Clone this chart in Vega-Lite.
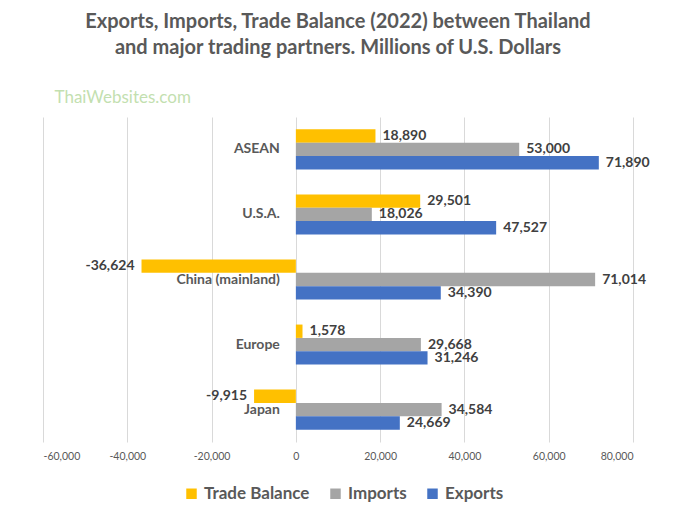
{
  "$schema": "https://vega.github.io/schema/vega-lite/v6.json",
  "autosize": "none",
  "width": 590,
  "height": 325,
  "padding": {"left": 43, "top": 117, "right": 43, "bottom": 74},
  "background": "white",
  "config": {
    "view": {"stroke": null},
    "font": "Lato",
    "locale": {"number": {"decimal": ".", "thousands": ",", "grouping": [3], "currency": ["$", ""], "minus": "-"}}
  },
  "title": {
    "text": ["Exports, Imports, Trade Balance (2022) between Thailand", "and major trading partners. Millions of U.S. Dollars"],
    "font": "Lato",
    "fontSize": 20,
    "fontWeight": "bold",
    "color": "#595959",
    "lineHeight": 26,
    "anchor": "middle",
    "offset": 30
  },
  "data": {
    "values": [
      {"country": "ASEAN", "series": "Trade Balance", "value": 18890},
      {"country": "ASEAN", "series": "Imports", "value": 53000},
      {"country": "ASEAN", "series": "Exports", "value": 71890},
      {"country": "U.S.A.", "series": "Trade Balance", "value": 29501},
      {"country": "U.S.A.", "series": "Imports", "value": 18026},
      {"country": "U.S.A.", "series": "Exports", "value": 47527},
      {"country": "China (mainland)", "series": "Trade Balance", "value": -36624},
      {"country": "China (mainland)", "series": "Imports", "value": 71014},
      {"country": "China (mainland)", "series": "Exports", "value": 34390},
      {"country": "Europe", "series": "Trade Balance", "value": 1578},
      {"country": "Europe", "series": "Imports", "value": 29668},
      {"country": "Europe", "series": "Exports", "value": 31246},
      {"country": "Japan", "series": "Trade Balance", "value": -9915},
      {"country": "Japan", "series": "Imports", "value": 34584},
      {"country": "Japan", "series": "Exports", "value": 24669}
    ]
  },
  "encoding": {
    "y": {
      "field": "country",
      "type": "nominal",
      "sort": ["ASEAN", "U.S.A.", "China (mainland)", "Europe", "Japan"],
      "scale": {"paddingInner": 0.385, "paddingOuter": 0.19},
      "axis": {
        "labels": false, "ticks": false, "domain": false, "grid": false,
        "title": "ThaiWebsites.com",
        "titleAngle": 0, "titleX": 11, "titleY": -15,
        "titleAlign": "left", "titleBaseline": "alphabetic",
        "titleColor": "#C3DFB0", "titleFont": "Lato", "titleFontSize": 17, "titleFontWeight": "normal"
      }
    },
    "yOffset": {
      "field": "series",
      "type": "nominal",
      "sort": ["Trade Balance", "Imports", "Exports"],
      "scale": {"paddingInner": 0, "paddingOuter": 0}
    },
    "x": {
      "field": "value",
      "type": "quantitative",
      "scale": {"domain": [-60000, 80000], "nice": false},
      "axis": {
        "values": [-60000, -40000, -20000, 0, 20000, 40000, 60000, 80000],
        "format": ",d",
        "grid": true, "gridColor": "#D9D9D9", "gridWidth": 1,
        "domain": false, "ticks": false,
        "labelColor": "#595959", "labelFont": "Lato", "labelFontSize": 10.5,
        "labelPadding": 9,
        "title": null
      }
    }
  },
  "layer": [
    {
      "mark": {"type": "bar"},
      "encoding": {
        "color": {
          "field": "series",
          "type": "nominal",
          "scale": {"domain": ["Trade Balance", "Imports", "Exports"], "range": ["#FFC000", "#A5A5A5", "#4472C4"]},
          "legend": {
            "orient": "none",
            "legendX": 140,
            "legendY": 368,
            "direction": "horizontal",
            "title": null,
            "symbolType": "square",
            "symbolSize": 110,
            "symbolStrokeWidth": 0,
            "labelFont": "Lato",
            "labelFontSize": 17,
            "labelFontWeight": "bold",
            "labelColor": "#595959",
            "labelOffset": 4,
            "columnPadding": 17
          }
        }
      }
    },
    {
      "transform": [{"filter": "datum.value >= 0"}],
      "mark": {"type": "text", "align": "left", "dx": 7, "font": "Lato", "fontSize": 14, "fontWeight": "bold", "color": "#404040"},
      "encoding": {"text": {"field": "value", "type": "quantitative", "format": ",d"}}
    },
    {
      "transform": [{"filter": "datum.value < 0"}],
      "mark": {"type": "text", "align": "right", "dx": -7, "font": "Lato", "fontSize": 14, "fontWeight": "bold", "color": "#404040"},
      "encoding": {"text": {"field": "value", "type": "quantitative", "format": ",d"}}
    },
    {
      "transform": [{"filter": "datum.series === 'Imports'"}],
      "mark": {"type": "text", "align": "right", "dx": -16, "font": "Lato", "fontSize": 14, "fontWeight": "bold", "color": "#595959"},
      "encoding": {
        "x": {"datum": 0},
        "yOffset": null,
        "text": {"field": "country", "type": "nominal"}
      }
    }
  ]
}
